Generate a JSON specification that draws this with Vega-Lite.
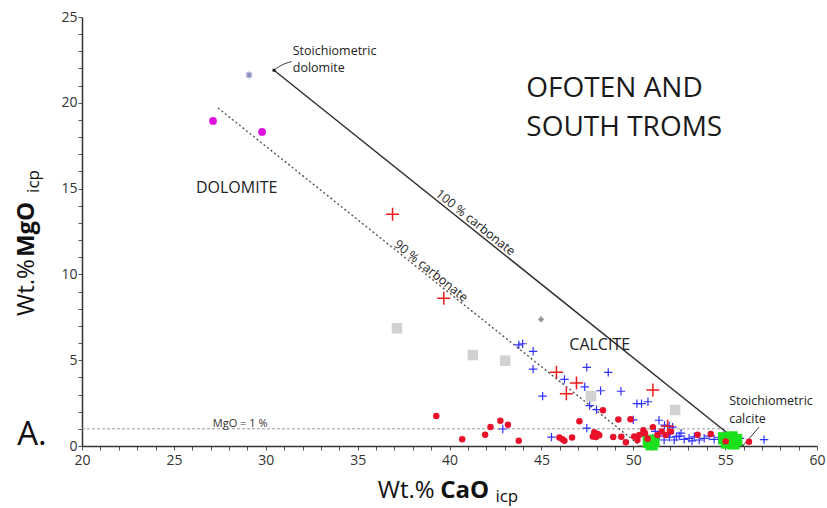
{
  "$schema": "https://vega.github.io/schema/vega-lite/v6.json",
  "width": 735,
  "height": 429,
  "autosize": "none",
  "padding": {"left": 82, "top": 17, "right": 10, "bottom": 62},
  "background": "white",
  "config": {"view": {"stroke": null}, "font": "Open Sans"},
  "datasets": {
    "points": [
      {"g": "faint", "CaO": 29.09, "MgO": 21.62},
      {"g": "magenta", "CaO": 27.13, "MgO": 18.94},
      {"g": "magenta", "CaO": 29.8, "MgO": 18.3},
      {"g": "gray", "CaO": 37.14, "MgO": 6.86},
      {"g": "gray", "CaO": 41.27, "MgO": 5.3},
      {"g": "gray", "CaO": 43.03, "MgO": 4.97},
      {"g": "gray", "CaO": 52.28, "MgO": 2.1},
      {"g": "gray", "CaO": 47.7, "MgO": 2.9},
      {"g": "graystar", "CaO": 44.98, "MgO": 7.38},
      {"g": "blue", "CaO": 43.77, "MgO": 5.89},
      {"g": "blue", "CaO": 43.98, "MgO": 5.96},
      {"g": "blue", "CaO": 44.55, "MgO": 5.52},
      {"g": "blue", "CaO": 44.55, "MgO": 4.48},
      {"g": "blue", "CaO": 46.26, "MgO": 3.88},
      {"g": "blue", "CaO": 47.47, "MgO": 4.58},
      {"g": "blue", "CaO": 48.64, "MgO": 4.29},
      {"g": "blue", "CaO": 45.07, "MgO": 2.91},
      {"g": "blue", "CaO": 47.36, "MgO": 3.45},
      {"g": "blue", "CaO": 48.22, "MgO": 3.22},
      {"g": "blue", "CaO": 49.33, "MgO": 3.19},
      {"g": "blue", "CaO": 47.63, "MgO": 2.35},
      {"g": "blue", "CaO": 48.0, "MgO": 2.12},
      {"g": "blue", "CaO": 50.2, "MgO": 2.47},
      {"g": "blue", "CaO": 50.45, "MgO": 2.47},
      {"g": "blue", "CaO": 50.8, "MgO": 2.58},
      {"g": "blue", "CaO": 51.4, "MgO": 1.5},
      {"g": "blue", "CaO": 50.0, "MgO": 1.52},
      {"g": "blue", "CaO": 47.47, "MgO": 1.04},
      {"g": "blue", "CaO": 42.9, "MgO": 0.99},
      {"g": "blue", "CaO": 45.55, "MgO": 0.52},
      {"g": "blue", "CaO": 51.7, "MgO": 1.22},
      {"g": "blue", "CaO": 51.96, "MgO": 1.17},
      {"g": "blue", "CaO": 52.14, "MgO": 1.1},
      {"g": "blue", "CaO": 57.12, "MgO": 0.37},
      {"g": "blue", "CaO": 50.69, "MgO": 0.58},
      {"g": "blue", "CaO": 51.05, "MgO": 0.45},
      {"g": "blue", "CaO": 51.41, "MgO": 0.58},
      {"g": "blue", "CaO": 51.68, "MgO": 0.35},
      {"g": "blue", "CaO": 51.96, "MgO": 0.51},
      {"g": "blue", "CaO": 52.23, "MgO": 0.35},
      {"g": "blue", "CaO": 52.5, "MgO": 0.58},
      {"g": "blue", "CaO": 52.77, "MgO": 0.39},
      {"g": "blue", "CaO": 53.04, "MgO": 0.45},
      {"g": "blue", "CaO": 53.32, "MgO": 0.54},
      {"g": "blue", "CaO": 53.59, "MgO": 0.35},
      {"g": "blue", "CaO": 53.86, "MgO": 0.45},
      {"g": "blue", "CaO": 54.13, "MgO": 0.58},
      {"g": "blue", "CaO": 54.4, "MgO": 0.39},
      {"g": "blue", "CaO": 54.67, "MgO": 0.51},
      {"g": "blue", "CaO": 52.0, "MgO": 0.72},
      {"g": "blue", "CaO": 52.6, "MgO": 0.75},
      {"g": "blue", "CaO": 53.2, "MgO": 0.3},
      {"g": "blue", "CaO": 51.2, "MgO": 0.85},
      {"g": "blue", "CaO": 52.35, "MgO": 0.55},
      {"g": "blue", "CaO": 54.9, "MgO": 0.6},
      {"g": "blue", "CaO": 55.8, "MgO": 0.45},
      {"g": "green", "CaO": 50.85, "MgO": 0.25},
      {"g": "green", "CaO": 51.1, "MgO": 0.3},
      {"g": "green", "CaO": 51.0, "MgO": 0.1},
      {"g": "green", "CaO": 54.95, "MgO": 0.45},
      {"g": "green", "CaO": 55.35, "MgO": 0.5},
      {"g": "green", "CaO": 55.6, "MgO": 0.35},
      {"g": "green", "CaO": 55.1, "MgO": 0.2},
      {"g": "green", "CaO": 55.45, "MgO": 0.15},
      {"g": "red", "CaO": 39.28, "MgO": 1.75},
      {"g": "red", "CaO": 40.69, "MgO": 0.39},
      {"g": "red", "CaO": 41.94, "MgO": 0.66},
      {"g": "red", "CaO": 42.23, "MgO": 1.11},
      {"g": "red", "CaO": 42.77, "MgO": 1.47},
      {"g": "red", "CaO": 43.18, "MgO": 1.24},
      {"g": "red", "CaO": 43.77, "MgO": 0.3},
      {"g": "red", "CaO": 45.98, "MgO": 0.5},
      {"g": "red", "CaO": 46.14, "MgO": 0.4},
      {"g": "red", "CaO": 46.25, "MgO": 0.31},
      {"g": "red", "CaO": 46.67, "MgO": 0.5},
      {"g": "red", "CaO": 47.07, "MgO": 1.44},
      {"g": "red", "CaO": 47.88, "MgO": 0.8},
      {"g": "red", "CaO": 48.06, "MgO": 0.7},
      {"g": "red", "CaO": 48.15, "MgO": 0.62},
      {"g": "red", "CaO": 47.97, "MgO": 0.52},
      {"g": "red", "CaO": 47.8, "MgO": 0.55},
      {"g": "red", "CaO": 48.35, "MgO": 2.08},
      {"g": "red", "CaO": 48.91, "MgO": 0.53},
      {"g": "red", "CaO": 49.19, "MgO": 1.55},
      {"g": "red", "CaO": 49.35, "MgO": 0.54},
      {"g": "red", "CaO": 49.85, "MgO": 1.56},
      {"g": "red", "CaO": 49.6, "MgO": 0.22},
      {"g": "red", "CaO": 50.05, "MgO": 0.56},
      {"g": "red", "CaO": 50.33, "MgO": 0.64},
      {"g": "red", "CaO": 50.23, "MgO": 0.35},
      {"g": "red", "CaO": 50.55, "MgO": 0.92},
      {"g": "red", "CaO": 50.64, "MgO": 0.74},
      {"g": "red", "CaO": 50.78, "MgO": 0.42},
      {"g": "red", "CaO": 51.07, "MgO": 1.1},
      {"g": "red", "CaO": 51.32, "MgO": 0.64},
      {"g": "red", "CaO": 51.55, "MgO": 0.84},
      {"g": "red", "CaO": 51.77, "MgO": 0.64},
      {"g": "red", "CaO": 52.05, "MgO": 0.84},
      {"g": "red", "CaO": 53.5, "MgO": 0.66},
      {"g": "red", "CaO": 54.22, "MgO": 0.7},
      {"g": "red", "CaO": 55.03, "MgO": 0.27},
      {"g": "red", "CaO": 56.3, "MgO": 0.25},
      {"g": "redcross", "CaO": 36.9, "MgO": 13.5},
      {"g": "redcross", "CaO": 39.69, "MgO": 8.61},
      {"g": "redcross", "CaO": 45.82, "MgO": 4.3},
      {"g": "redcross", "CaO": 46.91, "MgO": 3.67},
      {"g": "redcross", "CaO": 46.36, "MgO": 3.04},
      {"g": "redcross", "CaO": 51.07, "MgO": 3.26},
      {"g": "redcross", "CaO": 51.87, "MgO": 1.15}
    ],
    "lines": [
      {"line": "c100", "o": 1, "CaO": 30.45, "MgO": 21.9},
      {"line": "c100", "o": 2, "CaO": 56.0, "MgO": 0},
      {"line": "c90", "o": 1, "CaO": 27.4, "MgO": 19.7},
      {"line": "c90", "o": 2, "CaO": 50.4, "MgO": 0},
      {"line": "mgo1", "o": 1, "CaO": 20, "MgO": 1},
      {"line": "mgo1", "o": 2, "CaO": 55.2, "MgO": 1},
      {"line": "leadDol", "o": 1, "CaO": 30.45, "MgO": 21.9},
      {"line": "leadDol", "o": 2, "CaO": 30.9, "MgO": 22.25},
      {"line": "leadDol", "o": 3, "CaO": 31.4, "MgO": 22.4},
      {"line": "leadCal", "o": 1, "CaO": 55.95, "MgO": 0},
      {"line": "leadCal", "o": 2, "CaO": 56.85, "MgO": 1.1}
    ],
    "labels": [
      {"kind": "small", "text": "Stoichiometric", "CaO": 31.47, "MgO": 22.79},
      {"kind": "small", "text": "dolomite", "CaO": 31.47, "MgO": 21.8},
      {"kind": "small", "text": "Stoichiometric", "CaO": 55.22, "MgO": 2.39},
      {"kind": "small", "text": "calcite", "CaO": 55.22, "MgO": 1.34},
      {"kind": "tiny", "text": "MgO = 1 %", "CaO": 27.12, "MgO": 1.1},
      {"kind": "mid", "text": "DOLOMITE", "CaO": 26.2, "MgO": 14.74},
      {"kind": "mid", "text": "CALCITE", "CaO": 46.52, "MgO": 5.59},
      {"kind": "big", "text": "OFOTEN AND", "CaO": 44.18, "MgO": 20.36},
      {"kind": "big", "text": "SOUTH TROMS", "CaO": 44.18, "MgO": 18.07},
      {"kind": "carb", "text": "100 % carbonate", "CaO": 41.41, "MgO": 13.02},
      {"kind": "carb", "text": "90 % carbonate", "CaO": 38.99, "MgO": 10.2},
      {"kind": "A", "text": "A.", "CaO": 16.47, "MgO": 0.06},
      {"kind": "xt", "text": "Wt.%", "CaO": 36.1, "MgO": -3.03},
      {"kind": "xtb", "text": "CaO", "CaO": 39.5, "MgO": -3.03},
      {"kind": "xts", "text": "icp", "CaO": 42.5, "MgO": -3.25},
      {"kind": "yt", "text": "Wt.%", "CaO": 17.39, "MgO": 7.58},
      {"kind": "ytb", "text": "MgO", "CaO": 17.39, "MgO": 11.01},
      {"kind": "yts", "text": "icp", "CaO": 17.68, "MgO": 14.75}
    ]
  },
  "encoding": {
    "x": {
      "field": "CaO", "type": "quantitative",
      "scale": {"domain": [20, 60], "nice": false, "zero": false},
      "axis": {
        "title": null,
        "grid": false,
        "values": [20,21,22,23,24,25,26,27,28,29,30,31,32,33,34,35,36,37,38,39,40,41,42,43,44,45,46,47,48,49,50,51,52,53,54,55,56,57,58,59,60],
        "labelExpr": "datum.value % 5 === 0 ? datum.label : ''",
        "tickSize": 4,
        "labelFlush": false,
        "labelOverlap": false,
        "labelFontSize": 14,
        "labelFont": "Open Sans",
        "labelColor": "#333333",
        "labelPadding": 3,
        "domainColor": "#333333",
        "domainWidth": 1.5,
        "tickColor": "#555555",
        "tickWidth": 1
      }
    },
    "y": {
      "field": "MgO", "type": "quantitative",
      "scale": {"domain": [0, 25], "nice": false, "zero": false},
      "axis": {
        "title": null,
        "grid": false,
        "values": [0,1,2,3,4,5,6,7,8,9,10,11,12,13,14,15,16,17,18,19,20,21,22,23,24,25],
        "labelExpr": "datum.value % 5 === 0 ? datum.label : ''",
        "tickSize": 4,
        "labelFlush": false,
        "labelOverlap": false,
        "labelFontSize": 14,
        "labelFont": "Open Sans",
        "labelColor": "#333333",
        "labelPadding": 1,
        "domainColor": "#333333",
        "domainWidth": 1.5,
        "tickColor": "#555555",
        "tickWidth": 1
      }
    }
  },
  "layer": [
    {
      "data": {"name": "lines"},
      "transform": [{"filter": "datum.line === 'mgo1'"}],
      "mark": {"type": "line", "stroke": "#9a9a9a", "strokeWidth": 1, "strokeDash": [3, 2]},
      "encoding": {"order": {"field": "o"}}
    },
    {
      "data": {"name": "lines"},
      "transform": [{"filter": "datum.line === 'c100'"}],
      "mark": {"type": "line", "stroke": "#2b2b2b", "strokeWidth": 1.4},
      "encoding": {"order": {"field": "o"}}
    },
    {
      "data": {"name": "lines"},
      "transform": [{"filter": "datum.line === 'c90'"}],
      "mark": {"type": "line", "stroke": "#555555", "strokeWidth": 1.4, "strokeDash": [2, 2.5]},
      "encoding": {"order": {"field": "o"}}
    },
    {
      "data": {"name": "lines"},
      "transform": [{"filter": "datum.line === 'leadDol' || datum.line === 'leadCal'"}],
      "mark": {"type": "line", "stroke": "#333333", "strokeWidth": 1, "interpolate": "basis"},
      "encoding": {"detail": {"field": "line"}, "order": {"field": "o"}}
    },
    {
      "data": {"name": "lines"},
      "transform": [{"filter": "datum.line === 'c100' && datum.o === 1"}],
      "mark": {"type": "point", "shape": "circle", "filled": true, "color": "#222222", "size": 12, "opacity": 1}
    },
    {
      "data": {"name": "points"},
      "transform": [{"filter": "datum.g === 'gray'"}],
      "mark": {"type": "point", "shape": "square", "filled": true, "color": "#bdbdbd", "size": 110, "opacity": 0.7}
    },
    {
      "data": {"name": "points"},
      "transform": [{"filter": "datum.g === 'graystar'"}],
      "mark": {"type": "point", "shape": "cross", "filled": true, "color": "#888888", "size": 30, "opacity": 0.9}
    },
    {
      "data": {"name": "points"},
      "transform": [{"filter": "datum.g === 'faint'"}],
      "mark": {"type": "point", "shape": "M-1,0H1M0,-1V1M-0.7,-0.7L0.7,0.7M-0.7,0.7L0.7,-0.7", "filled": false, "stroke": "#8a8ac0", "strokeWidth": 1.2, "size": 50, "opacity": 1}
    },
    {
      "data": {"name": "points"},
      "transform": [{"filter": "datum.g === 'magenta'"}],
      "mark": {"type": "point", "shape": "circle", "filled": true, "color": "#e010e0", "size": 60, "opacity": 1}
    },
    {
      "data": {"name": "points"},
      "transform": [{"filter": "datum.g === 'blue'"}],
      "mark": {"type": "point", "shape": "M-1,0H1M0,-1V1", "filled": false, "stroke": "#3030ff", "strokeWidth": 1.2, "size": 70, "opacity": 1}
    },
    {
      "data": {"name": "points"},
      "transform": [{"filter": "datum.g === 'green'"}],
      "mark": {"type": "point", "shape": "square", "filled": true, "color": "#1be01b", "size": 150, "opacity": 1}
    },
    {
      "data": {"name": "points"},
      "transform": [{"filter": "datum.g === 'red'"}],
      "mark": {"type": "point", "shape": "circle", "filled": true, "color": "#e8102a", "size": 42, "opacity": 1}
    },
    {
      "data": {"name": "points"},
      "transform": [{"filter": "datum.g === 'redcross'"}],
      "mark": {"type": "point", "shape": "M-1,0H1M0,-1V1", "filled": false, "stroke": "#ee1a1a", "strokeWidth": 1.5, "size": 170, "opacity": 1}
    },
    {
      "data": {"name": "labels"},
      "transform": [{"filter": "datum.kind === 'small'"}],
      "mark": {"type": "text", "align": "left", "baseline": "alphabetic", "fontSize": 12.5, "color": "#222222", "clip": false},
      "encoding": {"text": {"field": "text"}}
    },
    {
      "data": {"name": "labels"},
      "transform": [{"filter": "datum.kind === 'tiny'"}],
      "mark": {"type": "text", "align": "left", "baseline": "alphabetic", "fontSize": 11, "color": "#333333", "clip": false},
      "encoding": {"text": {"field": "text"}}
    },
    {
      "data": {"name": "labels"},
      "transform": [{"filter": "datum.kind === 'mid'"}],
      "mark": {"type": "text", "align": "left", "baseline": "alphabetic", "fontSize": 16, "color": "#222222", "clip": false},
      "encoding": {"text": {"field": "text"}}
    },
    {
      "data": {"name": "labels"},
      "transform": [{"filter": "datum.kind === 'big'"}],
      "mark": {"type": "text", "align": "left", "baseline": "alphabetic", "fontSize": 28, "color": "#1a1a1a", "clip": false},
      "encoding": {"text": {"field": "text"}}
    },
    {
      "data": {"name": "labels"},
      "transform": [{"filter": "datum.kind === 'carb'"}],
      "mark": {"type": "text", "align": "center", "baseline": "middle", "fontSize": 12.5, "angle": 38.7, "color": "#222222", "clip": false},
      "encoding": {"text": {"field": "text"}}
    },
    {
      "data": {"name": "labels"},
      "transform": [{"filter": "datum.kind === 'A'"}],
      "mark": {"type": "text", "align": "left", "baseline": "alphabetic", "fontSize": 33, "color": "#111111", "clip": false},
      "encoding": {"text": {"field": "text"}}
    },
    {
      "data": {"name": "labels"},
      "transform": [{"filter": "datum.kind === 'xt'"}],
      "mark": {"type": "text", "align": "left", "baseline": "alphabetic", "fontSize": 24, "color": "#111111", "clip": false},
      "encoding": {"text": {"field": "text"}}
    },
    {
      "data": {"name": "labels"},
      "transform": [{"filter": "datum.kind === 'xtb'"}],
      "mark": {"type": "text", "align": "left", "baseline": "alphabetic", "fontSize": 24, "fontWeight": "bold", "color": "#111111", "clip": false},
      "encoding": {"text": {"field": "text"}}
    },
    {
      "data": {"name": "labels"},
      "transform": [{"filter": "datum.kind === 'xts'"}],
      "mark": {"type": "text", "align": "left", "baseline": "alphabetic", "fontSize": 17, "color": "#111111", "clip": false},
      "encoding": {"text": {"field": "text"}}
    },
    {
      "data": {"name": "labels"},
      "transform": [{"filter": "datum.kind === 'yt'"}],
      "mark": {"type": "text", "align": "left", "baseline": "alphabetic", "fontSize": 24, "angle": 270, "color": "#111111", "clip": false},
      "encoding": {"text": {"field": "text"}}
    },
    {
      "data": {"name": "labels"},
      "transform": [{"filter": "datum.kind === 'ytb'"}],
      "mark": {"type": "text", "align": "left", "baseline": "alphabetic", "fontSize": 24, "fontWeight": "bold", "angle": 270, "color": "#111111", "clip": false},
      "encoding": {"text": {"field": "text"}}
    },
    {
      "data": {"name": "labels"},
      "transform": [{"filter": "datum.kind === 'yts'"}],
      "mark": {"type": "text", "align": "left", "baseline": "alphabetic", "fontSize": 17, "angle": 270, "color": "#111111", "clip": false},
      "encoding": {"text": {"field": "text"}}
    }
  ]
}
